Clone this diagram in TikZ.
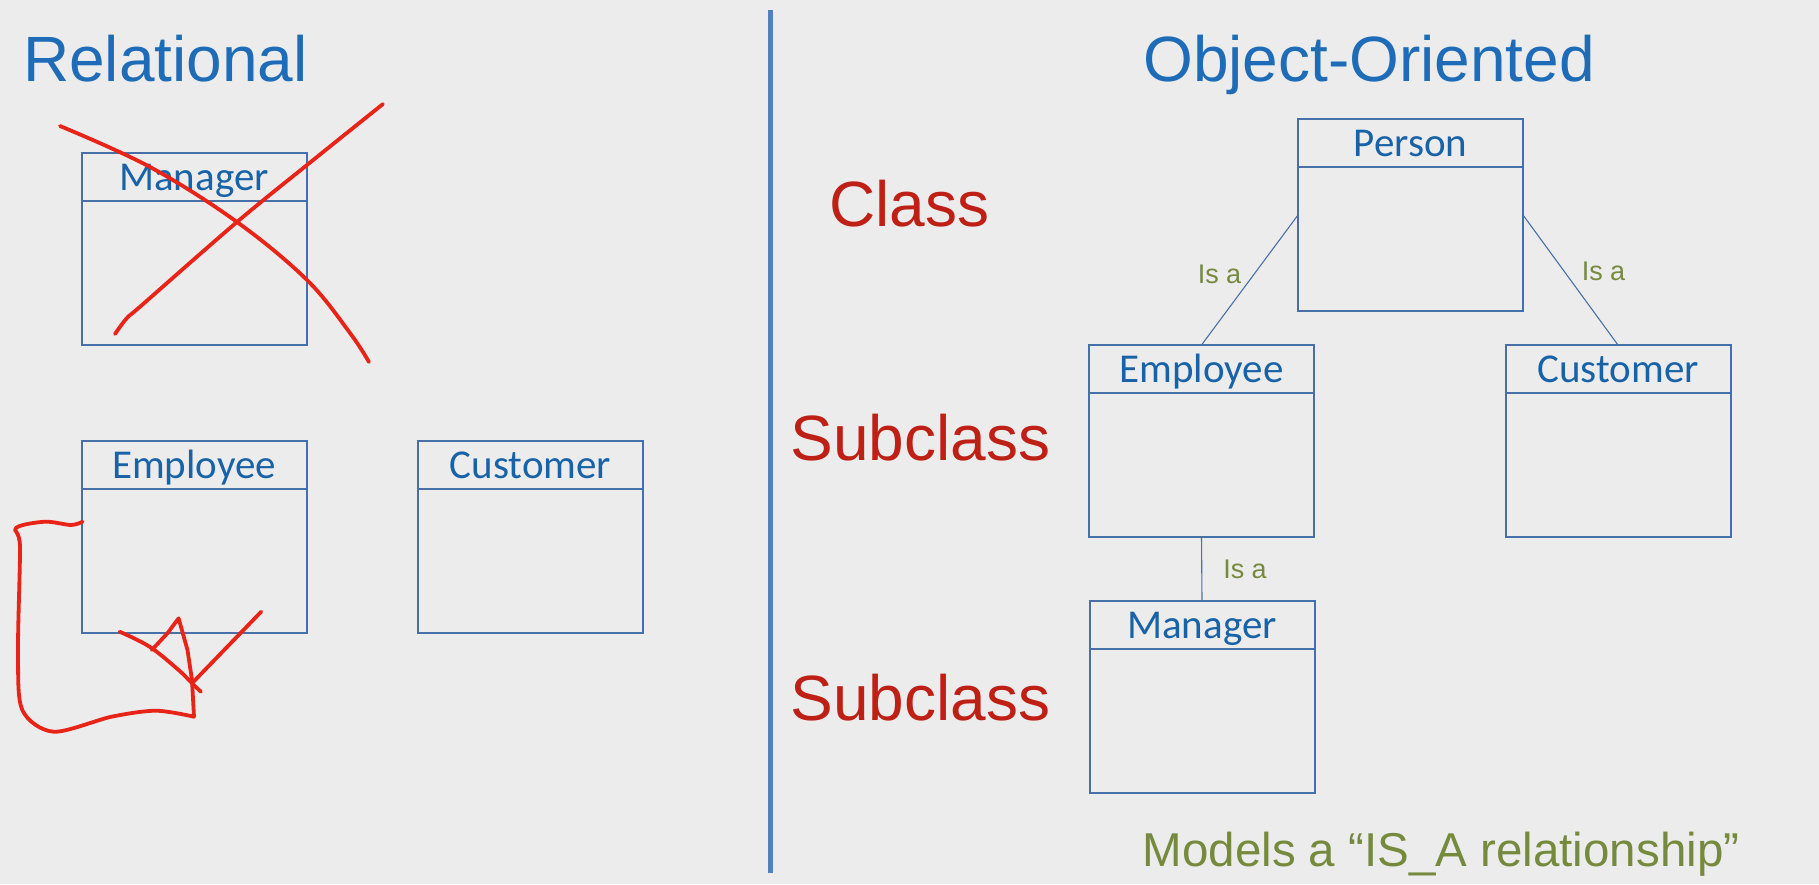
\documentclass[tikz,border=0pt]{standalone}
\usepackage{fontspec}
\setmainfont{Liberation Sans}
\newfontfamily\calibri{Carlito}
\definecolor{titleblue}{RGB}{30,108,184}
\definecolor{labelblue}{RGB}{24,98,168}
\definecolor{boxblue}{RGB}{72,112,168}
\definecolor{divblue}{RGB}{84,128,186}
\definecolor{textred}{RGB}{190,32,22}
\definecolor{penred}{RGB}{232,36,24}
\definecolor{isaolive}{RGB}{118,138,62}
\definecolor{bgcol}{RGB}{236,236,236}
\newcommand{\umlbox}[4]{%
  \node[classbox] (#1) at (#2,#3) {};
  \draw[divider] ([yshift=-48pt]#1.north west) -- ([yshift=-48pt]#1.north east);
  \node[classlabel] (#1-lbl) at ([yshift=-37.5pt]#1.north) {#4};
}
\begin{document}
\begin{tikzpicture}[x=1pt,y=-1pt,
  classbox/.style={draw=boxblue,line width=2pt,minimum width=225pt,minimum height=192pt,anchor=north west,inner sep=0pt,outer sep=0pt},
  classlabel/.style={font=\calibri\fontsize{41}{45}\selectfont,text=labelblue,anchor=base,inner sep=0pt},
  divider/.style={draw=boxblue,line width=2pt},
  isa/.style={draw=boxblue,line width=1.1pt},
  isalabel/.style={font=\fontsize{27}{30}\selectfont,text=isaolive,anchor=base,inner sep=0pt},
  titletext/.style={font=\fontsize{64}{70}\selectfont,text=titleblue,anchor=base west,inner sep=0pt},
  kindtext/.style={font=\fontsize{64}{70}\selectfont,text=textred,anchor=base west,inner sep=0pt},
  pen/.style={draw=penred,line width=3.8pt,line cap=round,line join=round},
]
\fill[bgcol] (0,0) rectangle (1819,884);
\useasboundingbox (0,0) rectangle (1819,884);

% divider
\draw[divblue,line width=5pt] (770,9.5) -- (770,873);

% titles
\node[titletext] (reltitle) at (23,81.5) {Relational};
\node[titletext] (ootitle) at (1143,81.5) {Object-Oriented};

% red kind labels
\node[kindtext] (kclass) at (829,226) {Class};
\node[kindtext] (ksub1) at (790.5,460) {Subclass};
\node[kindtext] (ksub2) at (790.5,720) {Subclass};

% relational boxes
\umlbox{rmgr}{81.5}{152.5}{Manager}
\umlbox{remp}{81.5}{441}{Employee}
\umlbox{rcus}{418}{441}{Customer}

% object-oriented boxes
\umlbox{oper}{1298}{119}{Person}
\umlbox{oemp}{1089}{345}{Employee}
\umlbox{ocus}{1505.5}{345}{Customer}
\umlbox{omgr}{1089.5}{601}{Manager}

% is-a connectors
\draw[isa] (oper.west) -- (oemp.north);
\draw[isa] (oper.east) -- (ocus.north);
\draw[isa] (oemp.south) -- (omgr.north);
\node[isalabel] (isa1) at (1219.5,283) {Is a};
\node[isalabel] (isa2) at (1603.5,280) {Is a};
\node[isalabel] (isa3) at (1245,578) {Is a};

% bottom caption
\node[font=\fontsize{47.5}{52}\selectfont,text=isaolive,anchor=base,inner sep=0pt] (caption) at (1441,866.5) {Models a “IS\_A relationship”};

% red pen marks: cross over Manager
\draw[pen] plot[smooth,tension=0.6] coordinates {(60,126) (150,167) (237,222) (307,280) (350,333) (369,362)};
\draw[pen] plot[smooth,tension=0.6] coordinates {(115,334) (127,318) (142,305) (237,222) (307,165) (383,104)};

% red pen marks: loop arrow around Employee
\draw[pen] plot[smooth,tension=0.5] coordinates {(82.6,521.7) (71,525) (45,521.7) (16,528) (20,547) (18,653) (22.3,710) (53.6,731.7) (111.6,716.7) (156,710.7) (194,716.7)}
  -- (192,680) -- (187.5,650) -- (178.6,618.3) -- (167.4,633.3) -- (151.8,650);
\draw[pen] plot[smooth,tension=0.6] coordinates {(119.6,631.7) (149.6,646.7) (178.6,670) (192,683.3) (200.9,691.7)};
\draw[pen] (261.2,611.7) -- (192,683.3);
\end{tikzpicture}
\end{document}
